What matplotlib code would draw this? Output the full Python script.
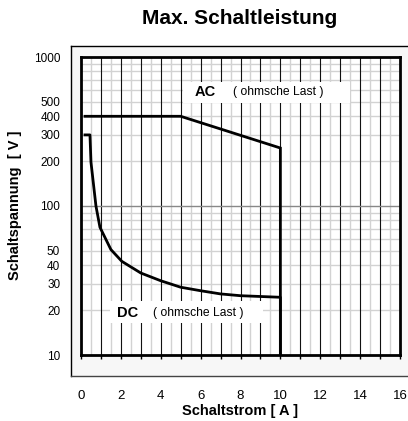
import matplotlib
matplotlib.use('Agg')
import matplotlib.pyplot as plt
from matplotlib.patches import Rectangle
import numpy as np

plt.rcParams['font.family'] = ['Liberation Sans', 'DejaVu Sans']

# switching current [A] / switching voltage [V]
ac_strom = [0.2, 5.0, 10.0, 10.0]
ac_spannung = [400, 400, 245, 10]
dc_strom = [0.2, 0.45, 0.5, 0.75, 0.95, 1.5, 2.05, 3.0, 4.0, 5.0, 6.0, 7.0, 8.0, 10.0, 10.0]
dc_spannung = [300, 300, 197, 100, 72, 51, 42.5, 35.5, 31.5, 28.5, 27, 25.7, 25, 24.4, 10]

x_ticks = [0, 2, 4, 6, 8, 10, 12, 14, 16]
y_ticks = [10, 20, 30, 40, 50, 100, 200, 300, 400, 500, 1000]
y_minor = [20, 30, 40, 50, 60, 70, 80, 90, 200, 300, 400, 500, 600, 700, 800, 900]

W, H = 408, 421
fig = plt.figure(figsize=(W / 100, H / 100), dpi=100)

# outer grey frame
frame = Rectangle((71 / W, 1 - 376 / H), (W - 71) / W, (376 - 46) / H,
                  transform=fig.transFigure, facecolor='#f7f7f7', edgecolor='none', zorder=-2)
fig.add_artist(frame)
fig.add_artist(plt.Line2D([71 / W, 71 / W], [1 - 376 / H, 1 - 46 / H], color='black', lw=1, zorder=-1))
fig.add_artist(plt.Line2D([71 / W, 1], [1 - 46 / H, 1 - 46 / H], color='black', lw=1, zorder=-1))
fig.add_artist(plt.Line2D([71 / W, 1], [1 - 376 / H, 1 - 376 / H], color='#444444', lw=1, zorder=-1))

ax = fig.add_axes([81 / W, 1 - 355 / H, 319 / W, 298 / H])
ax.set_zorder(1)
ax.set_facecolor('white')
ax.set_yscale('log')
ax.set_xlim(0, 16)
ax.set_ylim(10, 1000)

# grid
for x in np.arange(0.5, 16, 1.0):
    ax.axvline(x, color='#d2d2d2', lw=1, zorder=1)
for x in range(1, 16):
    ax.axvline(x, color='#111111', lw=0.8, zorder=1.2)
for y in y_minor:
    ax.axhline(y, color='#d2d2d2', lw=1, zorder=1.1)
ax.axhline(100, color='#888888', lw=1, zorder=1.3)

# label boxes
ax.add_patch(Rectangle((5.12, 490), 8.37, 193, facecolor='white', edgecolor='none', zorder=2))
ax.add_patch(Rectangle((1.45, 16.4), 7.68, 6.6, facecolor='white', edgecolor='none', zorder=2))
ax.text(5.72, 578, 'AC', fontsize=10.5, fontweight='bold', va='center', ha='left', zorder=3)
ax.text(7.61, 578, '( ohmsche Last )', fontsize=8.7, va='center', ha='left', zorder=3)
ax.text(1.82, 19.05, 'DC', fontsize=10.5, fontweight='bold', va='center', ha='left', zorder=3)
ax.text(3.63, 19.05, '( ohmsche Last )', fontsize=8.7, va='center', ha='left', zorder=3)

ax.plot(ac_strom, ac_spannung, color='black', lw=2, zorder=4, solid_joinstyle='miter')
ax.plot(dc_strom, dc_spannung, color='black', lw=2, zorder=4)

for s in ax.spines.values():
    s.set_linewidth(2)
    s.set_zorder(5)

ax.set_xticks(range(0, 17), minor=True)
ax.set_xticks(x_ticks)
ax.set_xticklabels([str(v) for v in x_ticks], fontsize=9.5)
ax.tick_params(axis='x', which='both', direction='out', length=3, width=1, pad=22)
ax.tick_params(axis='x', which='minor', labelbottom=False)
ax.set_yticks(y_ticks)
ax.set_yticklabels([str(v) for v in y_ticks], fontsize=8.5)
ax.yaxis.set_minor_locator(matplotlib.ticker.NullLocator())
ax.tick_params(axis='y', which='both', length=0, pad=15)

fig.text(240 / W, 1 - 18 / H, 'Max. Schaltleistung', fontsize=15, fontweight='bold',
         ha='center', va='center')
fig.text(240 / W, 1 - 411 / H, 'Schaltstrom [ A ]', fontsize=10.5, fontweight='bold',
         ha='center', va='center')
fig.text(15 / W, 1 - 205 / H, 'Schaltspannung  [ V ]', fontsize=10.5, fontweight='bold',
         ha='center', va='center', rotation=90)

fig.savefig('out.png', dpi=100)
